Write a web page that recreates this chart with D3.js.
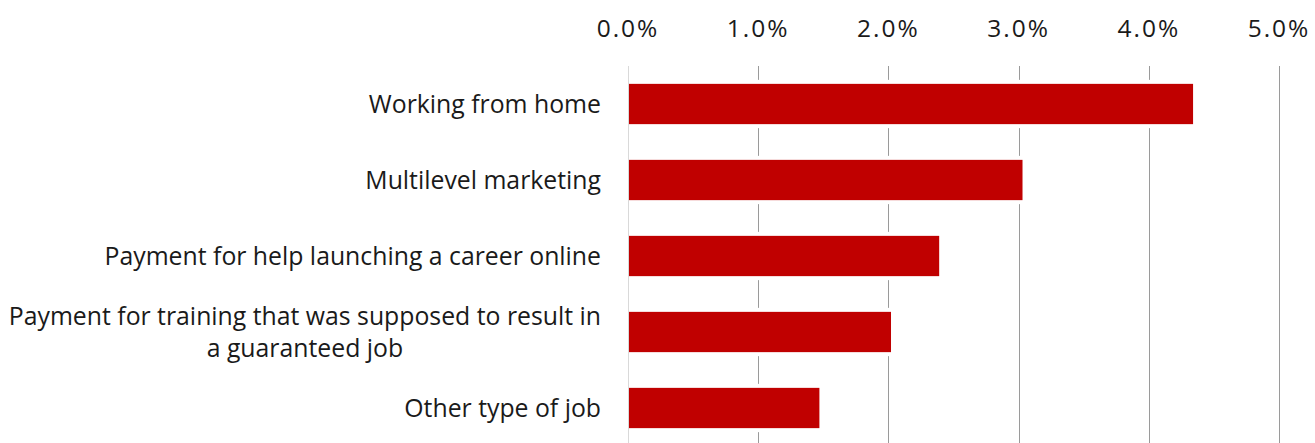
<!DOCTYPE html>
<html>
<head>
<meta charset="utf-8">
<script src="https://cdn.jsdelivr.net/npm/d3@7"></script>
<style>
  body { margin: 0; background: #fff; }
  text { font-family: "Open Sans", sans-serif; }
</style>
</head>
<body>
<div id="chart"></div>
<script>
var categories = [
  ["Working from home"],
  ["Multilevel marketing"],
  ["Payment for help launching a career online"],
  ["Payment for training that was supposed to result in", "a guaranteed job"],
  ["Other type of job"]
];
var values = [4.34, 3.03, 2.39, 2.02, 1.47];
var tickValues = [0, 1, 2, 3, 4, 5];

var width = 1315, height = 443;
var margin = { top: 66, right: 36, bottom: -3, left: 628 };

var svg = d3.select("#chart").append("svg")
  .attr("width", width)
  .attr("height", height);

var x = d3.scaleLinear()
  .domain([0, 5])
  .range([margin.left, width - margin.right]);

var y = d3.scaleBand()
  .domain(d3.range(categories.length))
  .range([margin.top, height - margin.bottom])
  .paddingInner(0.47)
  .paddingOuter(0.235);

// gridlines
svg.append("g").selectAll("line")
  .data(tickValues)
  .enter().append("line")
  .attr("x1", function(d) { return Math.round(x(d)) + 0.5; })
  .attr("x2", function(d) { return Math.round(x(d)) + 0.5; })
  .attr("y1", margin.top)
  .attr("y2", height)
  .style("stroke", function(d) { return d == 0 ? "#d9d9d9" : "#9a9a9a"; })
  .style("stroke-width", 1);

// tick labels
svg.append("g").selectAll("text")
  .data(tickValues)
  .enter().append("text")
  .attr("x", function(d) { return x(d); })
  .attr("y", 37)
  .attr("text-anchor", "middle")
  .attr("font-size", 24.5)
  .attr("letter-spacing", 2)
  .attr("fill", "#1a1a1a")
  .text(function(d) { return d3.format(".1f")(d) + "%"; });

var bars = svg.append("g");

// white halo that breaks the gridlines above and below each bar
bars.selectAll("rect.halo")
  .data(values)
  .enter().append("rect")
  .attr("class", "halo")
  .attr("x", x(0) + 1)
  .attr("y", function(d, i) { return y(i) - 4; })
  .attr("width", function(d) { return x(d) - x(0) - 1; })
  .attr("height", y.bandwidth() + 8)
  .attr("fill", "#fff");

bars.selectAll("rect.bar")
  .data(values)
  .enter().append("rect")
  .attr("class", "bar")
  .attr("x", x(0) + 1)
  .attr("y", function(d, i) { return y(i); })
  .attr("width", function(d) { return x(d) - x(0) - 1; })
  .attr("height", y.bandwidth())
  .attr("fill", "#c00000");

// category labels
var labelRight = 601;
var lineGap = 32;
var labels = svg.append("g").selectAll("text")
  .data(categories)
  .enter().append("text")
  .attr("font-size", 24.8)
  .attr("fill", "#1a1a1a")
  .attr("text-anchor", "middle");

labels.each(function(lines, i) {
  var t = d3.select(this);
  var cy = y(i) + y.bandwidth() / 2;
  var y0 = cy + 8.5 - (lines.length - 1) * lineGap / 2;
  lines.forEach(function(s, j) {
    t.append("tspan").attr("y", y0 + j * lineGap).text(s);
  });
  var w = d3.max(t.selectAll("tspan").nodes(), function(n) { return n.getComputedTextLength(); });
  t.selectAll("tspan").attr("x", labelRight - w / 2);
});
</script>
</body>
</html>
